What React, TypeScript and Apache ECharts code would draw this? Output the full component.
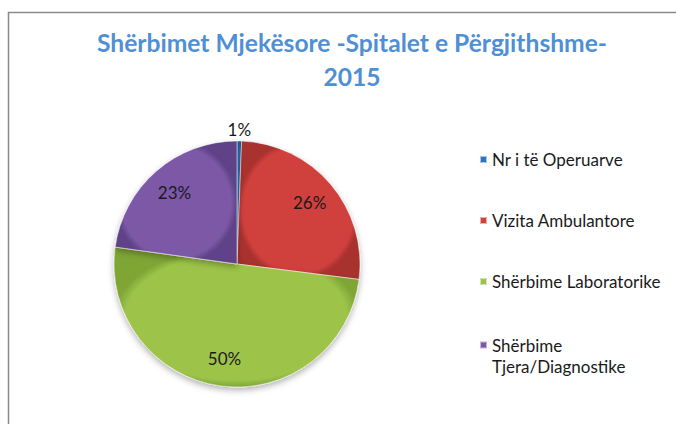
import React, { useEffect, useRef } from "react";
import * as echarts from "echarts";

const titleLines = ["Shërbimet Mjekësore -Spitalet e Përgjithshme-", "2015"];
const categories = [
  "Nr i të Operuarve",
  "Vizita Ambulantore",
  "Shërbime Laboratorike",
  "Shërbime Tjera/Diagnostike",
];
const shares = [0.6, 26.4, 50.2, 22.8];
const colors = ["#2E75C0", "#D0413E", "#9DC44A", "#7B58A6"];
const edgeColors = ["#1E5A9A", "#A8302E", "#7FA536", "#5F4388"];

export default function App() {
  const ref = useRef<HTMLDivElement>(null);
  useEffect(() => {
    if (!ref.current) return;
    const chart = echarts.init(ref.current, null, { renderer: "svg" });
    const font = "Lato, 'Open Sans', sans-serif";
    const fill = (i: number) => ({
      type: "radial",
      x: 0.5,
      y: 0.5,
      r: 0.5,
      colorStops: [
        { offset: 0, color: colors[i] },
        { offset: 0.9, color: colors[i] },
        { offset: 1, color: edgeColors[i] },
      ],
    });
    const center = [237, 264];
    const R = 123;
    const legendText = {
      color: "#1a1a1a",
      fontFamily: font,
      fontSize: 17,
      lineHeight: 21,
    };
    const legendBase = {
      orient: "vertical",
      left: 474,
      itemWidth: 7,
      itemHeight: 7,
      itemGap: 40,
      icon: "rect",
    };
    chart.setOption({
      animation: false,
      backgroundColor: "#ffffff",
      title: {
        text: titleLines.join("\n"),
        left: 347,
        top: 20,
        textAlign: "center",
        textStyle: {
          color: "#4F8FD6",
          fontFamily: font,
          fontWeight: "bold",
          fontSize: 24.6,
          lineHeight: 34,
        },
      },
      legend: [
        {
          ...legendBase,
          top: 144,
          data: categories.slice(0, 3),
          textStyle: legendText,
        },
        {
          ...legendBase,
          top: 308.5,
          data: categories.slice(3),
          formatter: (name: string) => "\n" + name.replace(" ", "\n"),
          textStyle: legendText,
        },
      ],
      graphic: [
        {
          type: "rect",
          silent: true,
          z: -1,
          shape: { x: 8.5, y: 12.5, width: 700, height: 450 },
          style: { fill: "none", stroke: "#8a8a8a", lineWidth: 1.5 },
        },
      ],
      series: [
        {
          type: "pie",
          center,
          radius: [0, R],
          startAngle: 90,
          clockwise: true,
          avoidLabelOverlap: false,
          label: { show: false },
          labelLine: { show: false, length: 12, length2: 0 },
          itemStyle: {
            borderColor: "rgba(255,255,255,0.6)",
            borderWidth: 0.8,
            shadowBlur: 6,
            shadowOffsetY: 3,
            shadowColor: "rgba(0,0,0,0.3)",
          },
          emphasis: { disabled: true },
          data: categories.map((c, i) => ({
            name: c,
            value: shares[i],
            itemStyle: { color: fill(i) },
            label:
              i === 0
                ? {
                    show: true,
                    position: "outside",
                    distanceToLabelLine: -12,
                    formatter: (p: any) => Math.round(p.percent) + "%",
                    color: "#1a1a1a",
                    fontFamily: font,
                    fontSize: 17,
                  }
                : undefined,
          })),
        },
        {
          type: "pie",
          center,
          radius: [0, R * 1.5],
          startAngle: 90,
          clockwise: true,
          silent: true,
          legendHoverLink: false,
          itemStyle: { color: "transparent" },
          emphasis: { disabled: true },
          label: {
            show: true,
            position: "inside",
            formatter: (p: any) => Math.round(p.percent) + "%",
            color: "#1a1a1a",
            fontFamily: font,
            fontSize: 17,
          },
          labelLine: { show: false },
          data: categories.map((c, i) => ({
            name: c,
            value: shares[i],
            label: i === 0 ? { show: false } : undefined,
          })),
        },
      ],
    });
    return () => chart.dispose();
  }, []);
  return (
    <div
      ref={ref}
      style={{ position: "fixed", left: 0, top: 0, width: 676, height: 424 }}
    />
  );
}
